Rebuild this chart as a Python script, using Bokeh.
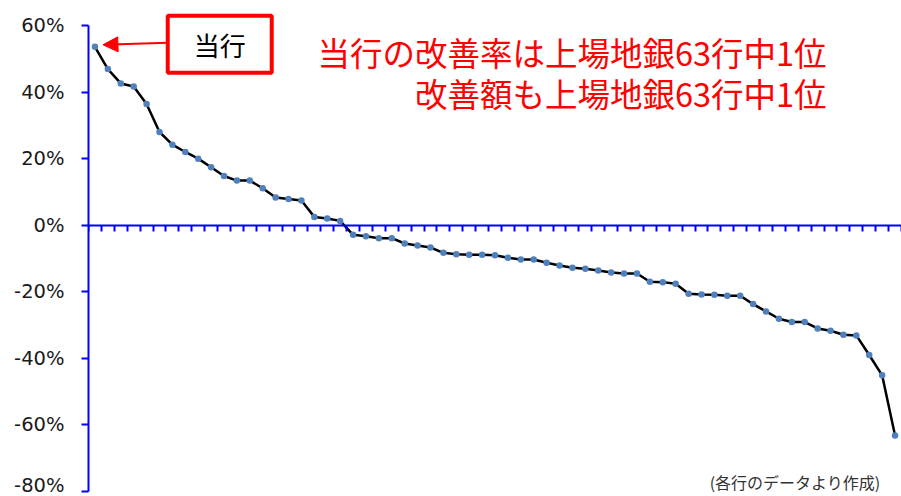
from bokeh.plotting import figure
from bokeh.models import (Range1d, LinearAxis, FixedTicker, NumeralTickFormatter,
                          Label, Arrow, NormalHead, ColumnDataSource)
from bokeh.embed import file_html
from bokeh.resources import INLINE

# ---- data: improvement rate (%) of 63 listed regional banks, sorted ----
rates_pct = [53.6, 46.9, 42.6, 41.7, 36.4, 28.0, 24.2, 22.0, 20.0, 17.4,
             14.8, 13.4, 13.4, 11.1, 8.3, 7.9, 7.4, 2.5, 2.0, 1.3,
             -2.9, -3.3, -3.9, -3.9, -5.5, -6.1, -6.7, -8.3, -8.7, -8.9,
             -8.9, -9.0, -9.8, -10.3, -10.3, -11.3, -12.1, -12.8, -13.1, -13.6,
             -14.2, -14.5, -14.5, -17.0, -17.1, -17.6, -20.6, -20.8, -20.9, -21.2,
             -21.2, -23.7, -25.9, -28.1, -29.1, -29.1, -31.0, -31.7, -32.9, -33.1,
             -39.0, -45.1, -63.2]
bank_rank = list(range(1, len(rates_pct) + 1))
y_ticks = [-0.8, -0.6, -0.4, -0.2, 0.0, 0.2, 0.4, 0.6]

title_line1 = "当行の改善率は上場地銀63行中1位"
title_line2 = "改善額も上場地銀63行中1位"
box_text = "当行"
source_text = "(各行のデータより作成)"

src = ColumnDataSource(data=dict(x=bank_rank, y=[v / 100 for v in rates_pct]))

PX_PER_UNIT = 466 / 1.4  # vertical pixels per unit of y
p = figure(width=901, height=496, output_backend="svg", toolbar_location=None,
           x_range=Range1d(0.5, len(rates_pct) + 0.5),
           y_range=Range1d(-0.8 - 5 / PX_PER_UNIT, 0.6 + 25 / PX_PER_UNIT),
           x_axis_location=None, y_axis_location="left",
           min_border_left=88, min_border_right=0, min_border_top=0, min_border_bottom=0)
p.outline_line_color = None
p.xgrid.visible = False
p.ygrid.visible = False
p.background_fill_color = "white"
p.border_fill_color = "white"

# y axis
ya = p.yaxis[0]
ya.bounds = (-0.8, 0.6)
ya.ticker = FixedTicker(ticks=y_ticks)
ya.formatter = NumeralTickFormatter(format="0%")
ya.axis_line_color = "#0000FF"
ya.axis_line_width = 2
ya.major_tick_line_color = "#0000FF"
ya.major_tick_line_width = 2
ya.major_tick_in = 0
ya.major_tick_out = 7
ya.minor_tick_line_color = None
ya.major_label_text_font = "DejaVu Sans"
ya.major_label_text_font_size = "19.5px"
ya.major_label_text_color = "#1a1a1a"
ya.major_label_standoff = 17

# x axis crossing at y = 0 with category boundary ticks (no labels)
x_bounds = [k + 0.5 for k in range(0, len(rates_pct) + 1)]
xa = LinearAxis(fixed_location=0, ticker=FixedTicker(ticks=x_bounds),
                major_tick_in=0, major_tick_out=6, minor_tick_line_color=None,
                axis_line_color="#0000FF", axis_line_width=2,
                major_tick_line_color="#0000FF", major_tick_line_width=2,
                major_label_overrides={t: "" for t in x_bounds},
                major_label_text_font_size="10px", major_label_standoff=0)
p.add_layout(xa, "below")

# series
p.line("x", "y", source=src, line_color="black", line_width=2.5)
p.scatter("x", "y", source=src, size=6.5, fill_color="#4F81BD", line_color=None)

# annotations
p.add_layout(Arrow(end=NormalHead(size=15, fill_color="#FF0000", line_color="#FF0000"),
                   x_start=6.68, y_start=0.548, x_end=1.62, y_end=0.542,
                   line_color="#FF0000", line_width=2))
p.add_layout(Label(x=10.67, y=0.544, text=box_text, text_align="center",
                   text_baseline="middle", text_font="Noto Sans CJK JP",
                   text_font_size="26px", text_color="black",
                   border_line_color="#FF0000", border_line_width=4,
                   background_fill_color="white", padding=(26, 10)))
p.add_layout(Label(x=57.69, y=0.523, text=title_line1, text_align="right",
                   text_baseline="middle", text_font="Noto Sans CJK JP",
                   text_font_size="32.5px", text_color="#FF0000"))
p.add_layout(Label(x=57.69, y=0.400, text=title_line2, text_align="right",
                   text_baseline="middle", text_font="Noto Sans CJK JP",
                   text_font_size="32.5px", text_color="#FF0000"))
p.add_layout(Label(x=61.87, y=-0.772, text=source_text, text_align="right",
                   text_baseline="middle", text_font="Noto Sans CJK JP",
                   text_font_size="16px", text_color="#333333"))

open("out.html", "w").write(file_html(p, INLINE))
